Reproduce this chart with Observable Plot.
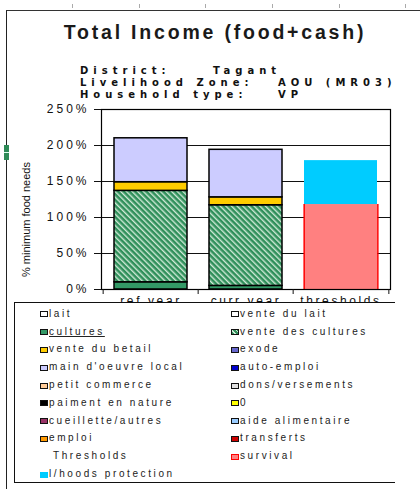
<!DOCTYPE html>
<html><head><meta charset="utf-8">
<script src="https://cdn.jsdelivr.net/npm/d3@7"></script>
<script src="https://cdn.jsdelivr.net/npm/@observablehq/plot@0.6"></script>
<style>
body{margin:0;width:420px;height:489px;overflow:hidden;background:#fff;position:relative;font-family:"Liberation Sans",Arial,sans-serif;color:#111}
#frame{position:absolute;left:6px;top:10px;width:500px;height:600px;border-left:1.5px solid #222;border-top:1.5px solid #333}
#title{position:absolute;left:0;width:430px;top:23px;text-align:center;font-weight:bold;font-size:19.5px;line-height:19px;letter-spacing:2.8px;color:#1a1a1a;white-space:nowrap}
.sub{position:absolute;font-family:"DejaVu Sans",sans-serif;font-weight:bold;font-size:10px;line-height:11px;letter-spacing:5px;color:#111;white-space:nowrap}
#chart{position:absolute;left:0;top:100px}
#legend{position:absolute;left:14px;top:302px;width:380px;height:179px;background:#fff;border-left:1.5px solid #111;border-top:1.5px solid #111;border-bottom:1.5px solid #111;z-index:2}
.sw{position:absolute;width:6px;height:4px;border:1px solid #111}
.lt{position:absolute;font-size:10px;line-height:10px;letter-spacing:2.6px;color:#222;white-space:nowrap}
.rt{position:absolute;top:4px;width:1px;height:4px;background:#aaa}
</style></head><body>
<svg width="0" height="0" style="position:absolute"><defs>
<pattern id="hatch" patternUnits="userSpaceOnUse" width="4" height="4" patternTransform="rotate(-45)">
<rect width="4" height="4" fill="#2f8f5a"/><rect width="1.4" height="4" fill="#cfe9d6"/>
</pattern></defs></svg>
<div id="frame"></div>
<div class="rt" style="left:72px"></div><div class="rt" style="left:139px"></div><div class="rt" style="left:205px"></div><div class="rt" style="left:272px"></div><div class="rt" style="left:339px"></div><div class="rt" style="left:405px"></div>
<div style="position:absolute;left:4px;top:145px;width:5px;height:15px;background:#2e8b57"><div style="position:absolute;left:0;top:7px;width:5px;height:1px;background:#dfe"></div></div>
<div id="title">Total Income (food+cash)</div>
<div class="sub" style="left:80px;top:65px">District:</div>
<div class="sub" style="left:213px;top:65px">Tagant</div>
<div class="sub" style="left:80px;top:77px">Livelihood Zone:</div>
<div class="sub" style="left:278px;top:77px">AOU (MR03)</div>
<div class="sub" style="left:80px;top:89px">Household type:</div>
<div class="sub" style="left:278px;top:89px">VP</div>
<div id="chart"></div>
<div id="legend"></div>
<script>
const categories = ["ref year", "curr year", "thresholds"];
const seriesNames = ["cultures", "vente des cultures", "vente du betail", "main d'oeuvre local", "survival", "l/hoods protection"];
const seriesColors = ["#339966", "url(#hatch)", "#FFCC00", "#CCCCFF", "#FF8080", "#00CCFF"];
const cultures = [10, 5, 0];
const venteDesCultures = [127, 112, 0];
const venteDuBetail = [12, 11, 0];
const mainDoeuvreLocal = [61, 66, 0];
const survival = [0, 0, 118];
const lhoodsProtection = [0, 0, 61];
const yTicks = [0, 50, 100, 150, 200, 250];
const yLabel = "% minimum food needs";

const legendLabels = ["lait", "vente du lait", "cultures", "vente des cultures", "vente du betail", "exode",
  "main d'oeuvre local", "auto-emploi", "petit commerce", "dons/versements", "paiment en nature", "0",
  "cueillette/autres", "aide alimentaire", "emploi", "transferts", "Thresholds", "survival", "l/hoods protection"];
const legendColors = ["#FFFFFF", "#FFFFFF", "#339966", "url(#hatch)", "#FFCC00", "#6666CC",
  "#CCCCFF", "#0000CC", "#FFCC99", "#E0E0E0", "#000000", "#FFFF00",
  "#993366", "#99CCFF", "#FF9900", "#CC0000", null, "#FF8080", "#00CCFF"];
const legendStrokes = ["#111", "#111", "#111", "#111", "#111", "#111", "#111", "#111", "#111", "#111", "#111", "#111",
  "#111", "#111", "#111", "#111", null, "#FF0000", "#00CCFF"];

const seriesValues = [cultures, venteDesCultures, venteDuBetail, mainDoeuvreLocal, survival, lhoodsProtection];
const rows = seriesNames.flatMap((s, si) => categories.map((c, ci) => ({category: c, series: s, value: seriesValues[si][ci]})))
  .filter(d => d.value > 0);
const incomeRows = rows.filter(d => d.category !== "thresholds");
const thresholdRows = rows.filter(d => d.category === "thresholds");
const survivalRows = rows.filter(d => d.series === "survival");

const paddingInner = 0.23, paddingOuter = 0.125;
const step = (390 - 101) / (categories.length - paddingInner + 2 * paddingOuter);
const halfStep = step / 2;
const halfBand = step * (1 - paddingInner) / 2;

const chart = Plot.plot({
  width: 420, height: 215,
  marginTop: 9, marginBottom: 26, marginLeft: 101, marginRight: 30,
  style: {fontFamily: "'Liberation Sans', Arial, sans-serif", fontSize: "12px", color: "#111", background: "transparent", overflow: "visible"},
  x: {domain: categories, paddingInner, paddingOuter, label: null},
  y: {domain: [0, 250], label: null},
  color: {domain: seriesNames, range: seriesColors},
  marks: [
    Plot.ruleY(yTicks, {stroke: "#111", strokeWidth: 1}),
    Plot.barY(incomeRows, {x: "category", y: "value", fill: "series", stroke: "#000", strokeWidth: 1.5}),
    Plot.barY(thresholdRows, {x: "category", y: "value", fill: "series"}),
    Plot.ruleX(survivalRows, {x: "category", y1: 0, y2: "value", dx: -halfBand, stroke: "#FF0000", strokeWidth: 1.5}),
    Plot.ruleX(survivalRows, {x: "category", y1: 0, y2: "value", dx: halfBand, stroke: "#FF0000", strokeWidth: 1.5}),
    Plot.frame({stroke: "#000", strokeWidth: 1.2}),
    Plot.axisY(yTicks, {tickFormat: d => d + "%", tickSize: 7, tickPadding: 5, label: null, fontSize: 12}),
    Plot.axisX({tickSize: 0, tickPadding: 7, label: null, fontSize: 12}),
    Plot.axisX(categories, {tickSize: 5, text: null, label: null, dx: -halfStep}),
    Plot.axisX(categories.slice(-1), {tickSize: 5, text: null, label: null, dx: halfStep}),
    Plot.text([yLabel], {frameAnchor: "left", textAnchor: "middle", dx: -75, dy: 20, rotate: -90, fontSize: 11})
  ]
});
chart.querySelectorAll('[aria-label="y-axis tick label"] text').forEach(t => t.style.letterSpacing = "3px");
chart.querySelectorAll('[aria-label="x-axis tick label"] text').forEach(t => t.style.letterSpacing = "2.6px");
document.getElementById("chart").appendChild(chart);

const legend = document.getElementById("legend");
legendLabels.forEach((lab, i) => {
  const col = i % 2, row = Math.floor(i / 2);
  const cy = 11.3 + row * 17.8;
  const swx = col === 0 ? 25 : 216;
  if (legendColors[i]) {
    const sw = document.createElement("div");
    sw.className = "sw";
    sw.style.left = swx + "px";
    sw.style.top = (cy - 3) + "px";
    sw.style.background = legendColors[i].startsWith("url") ? "repeating-linear-gradient(45deg,#2f8f5a 0 2px,#cfe9d6 2px 3px)" : legendColors[i];
    sw.style.borderColor = legendStrokes[i];
    legend.appendChild(sw);
  }
  const t = document.createElement("div");
  t.className = "lt";
  t.textContent = lab;
  t.style.left = (legendColors[i] ? swx + 9 : swx + 13) + "px";
  t.style.top = (cy - 5.5) + "px";
  if (lab === "cultures") t.style.textDecoration = "underline";
  legend.appendChild(t);
});
</script>
</body></html>
